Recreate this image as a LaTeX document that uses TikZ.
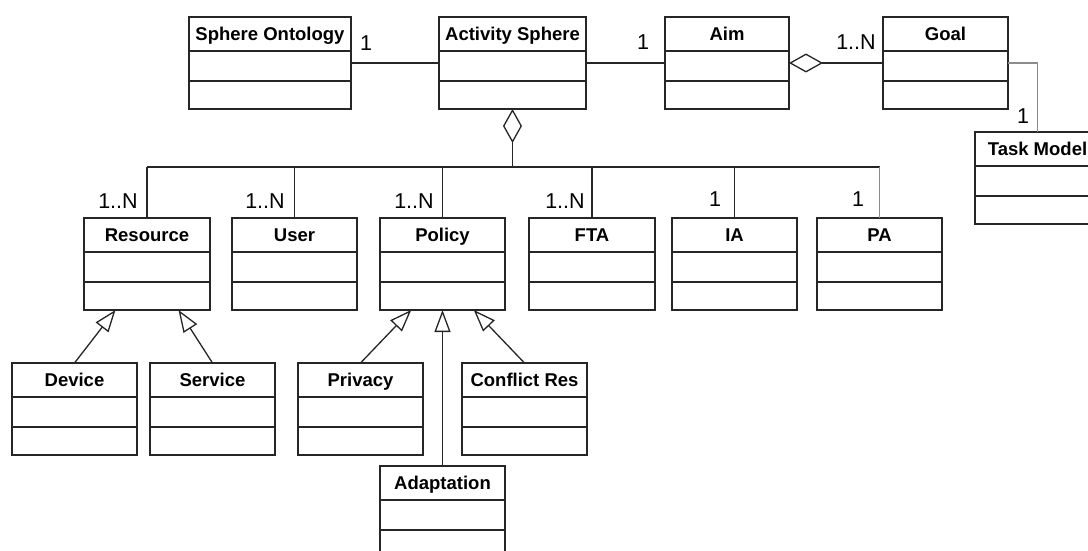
\documentclass[tikz,border=0pt]{standalone}
\usepackage{fontspec}
\setmainfont{Liberation Sans}
\usetikzlibrary{arrows.meta,calc,positioning}

% one class box: [width]{name}{x}{top}{title}
\newcommand{\umlclass}[5][125]{%
    \node[classbox, minimum width=#1pt, anchor=north] (#2) at (#3, #4) {};
    \node[classtitle, anchor=base] (#2-title) at ($(#2.north)+(0, 23.5)$) {#5};
    \draw[classbox] ($(#2.north west)+(0, 34)$) -- ($(#2.north east)+(0, 34)$);
    \draw[classbox] ($(#2.north west)+(0, 64)$) -- ($(#2.north east)+(0, 64)$);
}

\begin{document}
\begin{tikzpicture}[x=1pt, y=-1pt,
    classbox/.style={draw=black!85, line width=1.6pt, minimum height=92pt, inner sep=0pt, outer sep=0pt},
    classtitle/.style={font=\fontsize{18.5}{20}\selectfont\bfseries, inner sep=0pt},
    mult/.style={font=\fontsize{21.5}{23}\selectfont, inner sep=0pt},
    assoc/.style={draw=black!85, line width=1.3pt},
    faint/.style={draw=black!45, line width=1.3pt},
    aggr/.style={assoc, -{Diamond[open, length=34pt, width=19pt]}},
    gen/.style={assoc, -{Triangle[open, length=22pt, width=16pt]}}]
                        \useasboundingbox (0, 0) rectangle (1088, 551);
                        \fill[white] (0, 0) rectangle (1088, 551);
                        \clip (0, 0) rectangle (1088, 551);

                        \umlclass[162]{onto}{270}{17}{Sphere Ontology}
                        \umlclass[147]{sphere}{512.5}{17}{Activity Sphere}
                        \umlclass[124]{aim}{727}{17}{Aim}
                        \umlclass{goal}{945.5}{17}{Goal}
                        \umlclass{task}{1037.5}{132}{Task Model}

                        \umlclass[126]{resource}{147}{218}{Resource}
                        \umlclass{user}{294.5}{218}{User}
                        \umlclass{policy}{442.5}{218}{Policy}
                        \umlclass[126]{fta}{592}{218}{FTA}
                        \umlclass{ia}{734.5}{218}{IA}
                        \umlclass{pa}{879.5}{218}{PA}

                        \umlclass{device}{74.5}{363}{Device}
                        \umlclass{service}{212.5}{363}{Service}
                        \umlclass{privacy}{360.5}{363}{Privacy}
                        \umlclass{conflict}{524.5}{363}{Conflict Res}
                        \umlclass{adapt}{442.5}{466}{Adaptation}

                        % associations on top row
                        \draw[assoc] (onto.east) -- (sphere.west);
                        \draw[assoc] (sphere.east) -- (aim.west);
                        \draw[aggr] (goal.west) -- (aim.east);
                        \draw[faint] (goal.east) -| (task.north);

                        % aggregation bus
                        \coordinate (bus) at (512.5, 167);
                        \draw[aggr] (bus) -- (sphere.south);
                        \draw[assoc] (resource.north |- bus) -- (pa.north |- bus);
                        \foreach \c in {resource, user, policy, fta, ia}
                            \draw[assoc] (\c.north) -- (\c.north |- bus);
                        \draw[faint] (pa.north) -- (pa.north |- bus);

                        % generalisations
                        \draw[gen] (device.north) -- ($(resource.south west)!0.25!(resource.south east)$);
                        \draw[gen] (service.north) -- ($(resource.south west)!0.75!(resource.south east)$);
                        \draw[gen] (privacy.north) -- ($(policy.south west)!0.25!(policy.south east)$);
                        \draw[gen] (conflict.north) -- ($(policy.south west)!0.75!(policy.south east)$);
                        \draw[gen] (adapt.north) -- (policy.south);

                        % multiplicities
                        \node[mult] (m-onto) at (366, 43) {1};
                        \node[mult] (m-aim) at (643, 42) {1};
                        \node[mult] (m-goal) at (856, 42) {1..N};
                        \node[mult] (m-task) at (1023, 116) {1};
                        \node[mult] (m-resource) at (118, 201) {1..N};
                        \node[mult] (m-user) at (265, 201) {1..N};
                        \node[mult] (m-policy) at (414, 201) {1..N};
                        \node[mult] (m-fta) at (565, 201) {1..N};
                        \node[mult] (m-ia) at (715, 199) {1};
                        \node[mult] (m-pa) at (858, 199) {1};
                    \end{tikzpicture}
\end{document}
